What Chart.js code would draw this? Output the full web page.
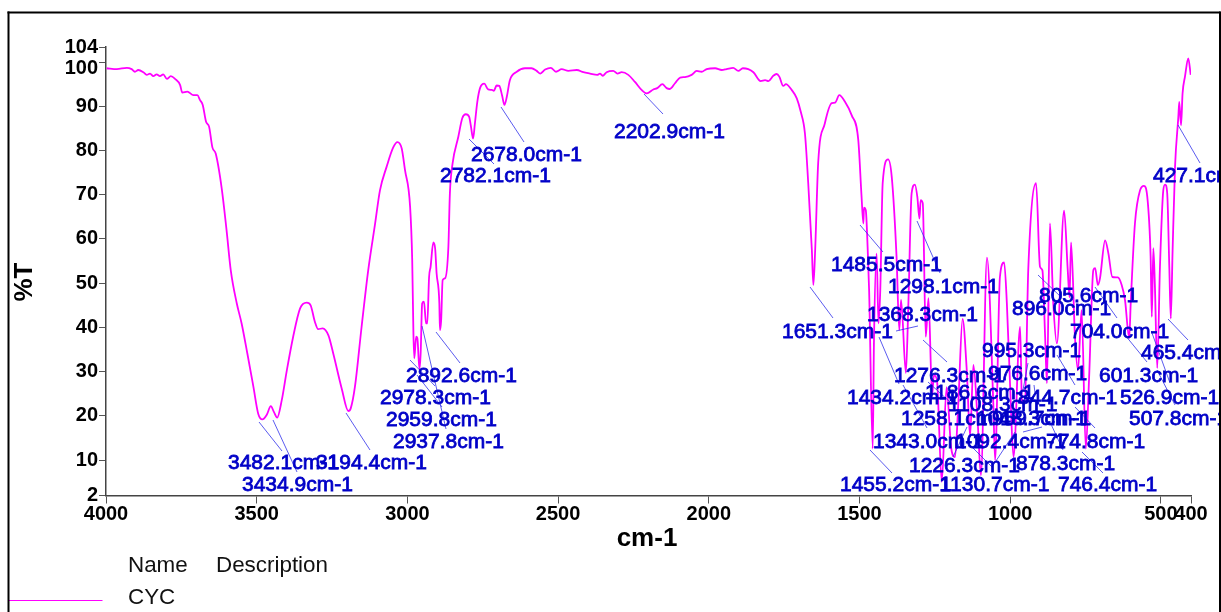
<!DOCTYPE html>
<html>
<head>
<meta charset="utf-8">
<style>html,body{margin:0;padding:0;background:#fff;overflow:hidden}canvas{display:block}</style>
<script src="https://cdn.jsdelivr.net/npm/chart.js@4"></script>
</head>
<body>
<div style="width:1221px;height:612px;position:relative"><canvas id="c" width="1221" height="612"></canvas></div>
<script>
const wavenumber = [
3998,3964,3931,3915,3904,3893,3876,3865,3854,3843,3832,3821,3810,3798,3785,3771,3754,3747,3730,3710,
3697,3688,3679,3668,3658,3647,3636,3616,3600,3586,3566,3550,3531,3511,3495,3481,3467,3453,3443,3432,
3417,3400,3379,3356,3334,3321,3307,3296,3281,3262,3246,3218,3196,3188,3174,3152,3130,3107,3091,3069,
3047,3033,3019,3008,2991,2984,2980,2977,2971,2967,2960,2956,2951,2945,2938,2934,2928,2923,2914,2908,
2903,2894,2892,2888,2883,2875,2864,2859,2850,2831,2818,2806,2795,2789,2782,2776,2768,2759,2745,2732,
2720,2713,2704,2695,2686,2678,2670,2660,2637,2610,2588,2571,2559,2543,2524,2507,2488,2466,2438,2416,
2394,2370,2361,2352,2339,2317,2303,2289,2267,2245,2223,2206,2184,2171,2154,2140,2129,2112,2095,2079,
2057,2040,2024,2007,1979,1957,1941,1919,1902,1887,1869,1852,1828,1813,1802,1786,1775,1766,1753,1744,
1725,1708,1695,1681,1670,1658,1653,1647,1637,1615,1592,1581,1567,1548,1526,1504,1493,1487,1485,1479,
1473,1468,1456,1452,1443,1437,1431,1423,1405,1393,1377,1368,1362,1346,1338,1327,1316,1308,1301,1297,
1290,1280,1271,1259,1253,1243,1227,1211,1196,1183,1172,1158,1144,1133,1122,1108,1097,1077,1056,1050,
1034,1020,1011,1000,989,967,961,951,940,914,901,893,884,878,868,857,845,821,809,803,
798,785,775,763,749,738,724,718,709,702,685,674,661,643,630,619,605,600,586,569,
556,545,534,530,525,520,512,503,492,486,479,472,467,461,453,442,439,433,428,420,
409,401];
const transmittance = [
98.6,98.4,98.7,98.4,97.8,98.2,97.7,97.1,97.4,96.8,97.2,96.8,97.2,96.2,96.8,96.2,94.8,93.1,93.3,92.5,
92.5,91.4,90.3,86.5,85.4,80.7,79.3,71.4,62,52.9,45.4,40.9,34.1,26.6,20.5,19.2,20.2,22.2,20.9,19.6,
23.5,30.3,37.9,44.3,45.6,45,41.3,39.6,39.8,38.2,34.1,26.2,21.1,21.7,26.6,40.1,52.9,63.5,71,76.3,
80.7,81.9,80.5,75.6,67.3,55.2,38.7,33,37.9,37.6,30.6,34.1,45.4,45.8,40.9,40.9,51.4,53.7,59.2,57.9,
52.2,45.5,39.4,41.6,50.7,51.1,58.2,70.3,77.1,83.1,87.3,88.2,87.6,85.4,82.7,86.1,91,94.1,95.1,93.8,
93.7,93.5,94.7,94.6,92.5,90.3,92.2,95.9,97.8,98.6,98.6,98,97.4,98.3,98.7,97.8,98.4,98,98.2,97.7,
97.4,97.1,97.4,96.9,97.7,98,97.4,97.7,97.1,95.5,93.7,92.9,93.8,94.1,95,94.1,93.9,95.2,96.5,96.6,
97.1,98,97.8,98.4,98.6,98.2,98.4,98.7,98,98.6,98.4,97.7,95.7,95.9,95.7,96.9,97.3,96.7,94.6,95,
93.7,91.8,88.8,83.9,72.6,57.5,49.6,57.5,77.2,86.1,90.7,90.8,92.5,91,88,82.4,69.5,63.5,67.1,66.5,
58.2,48.4,12.6,36.4,56.7,40.9,48.4,72.6,78,74.1,56,39.4,46.2,29.7,44.7,70.3,72.3,69.5,64.6,68.8,
68.1,37.9,46.6,24.7,29.2,28.1,5.1,26.5,12.9,10.7,22.9,41.9,30.3,15.4,31.5,19,6.6,55.8,22.9,10,
51.4,54.7,45.5,26.5,10.7,40.1,23.5,22.9,53,72.6,53.7,52.9,37.9,27.4,63.5,45.5,36.4,66.4,53,46.8,
59.2,37.9,30.3,43.9,12.6,28.8,53,53.4,49.6,51.1,59.7,56.7,51.4,51.3,49.6,46.2,37.6,45.5,63.5,71,
72,69.5,56,42.4,57.9,49.9,30.8,53.7,71,72.3,70.4,53.7,42,57.5,76.3,87.6,91,85.7,92.9,96.7,
100.8,97.1];
const xTicks = [4000,3500,3000,2500,2000,1500,1000,500,400];
const yTicks = [2,10,20,30,40,50,60,70,80,90,100,103.4];
const yTickLabels = ['2','10','20','30','40','50','60','70','80','90','','104'];
const seriesName = 'CYC';
const peakNames = [
'3482.1cm-1','3434.9cm-1','3194.4cm-1','2978.3cm-1','2959.8cm-1','2937.8cm-1','2892.6cm-1','2782.1cm-1','2678.0cm-1','2202.9cm-1',
'1651.3cm-1','1485.5cm-1','1455.2cm-1','1434.2cm-1','1368.3cm-1','1343.0cm-1','1298.1cm-1','1276.3cm-1','1258.1cm-1','1226.3cm-1',
'1186.6cm-1','1130.7cm-1','1108.3cm-1','1092.4cm-1','1048.3cm-1','995.3cm-1','976.6cm-1','959.7cm-1','896.0cm-1','878.3cm-1',
'844.7cm-1','805.6cm-1','774.8cm-1','746.4cm-1','704.0cm-1','601.3cm-1','526.9cm-1','507.8cm-1','465.4cm-1','427.1cm-1'];

// annotation layout: label left edge and centre line, then leader ends, in canvas pixels
const labelAt = [
[228,463],[242,485],[316,463],[380,398],[386,420],[393,442],[406,376],[440,176],[471,155],[614,132],
[782,332],[831,265],[840,485],[847,398],[867,315],[873,442],[888,287],[894,376],[901,419],[909,466],
[925,393],[940,485],[948,405],[955,442],[976,419],[982,351],[988,374],[992,419],[1012,309],[1016,464],
[1018,398],[1039,296],[1046,442],[1058,485],[1070,332],[1099,376],[1120,398],[1129,419],[1141,353],[1153,176]];
const leaders = [
[259,422,282,451],[273,420,297,472],[346,413,370,450],[410,360,435,386],[417,375,442,407],[422,326,446,429],[436,332,460,363],[469,139,494,164],[501,107,524,142],[644,94,663,114],
[810,287,833,318],[860,225,883,252],[870,450,892,473],[879,337,899,384],[896,331,918,326],[903,385,927,428],[917,221,940,273],[923,340,947,362],[928,382,950,402],[967,427,953,457],
[970,445,992,467],[992,467,1015,432],[1023,432,1042,427],[1050,422,1063,450],[1028,363,1023,390],[1034,385,1035,393],[1038,275,1061,297],[1057,355,1075,385],[1075,407,1095,428],[1082,452,1103,473],
[1095,287,1117,318],[1125,335,1147,362],[1152,333,1170,383],[1157,370,1175,405],[1168,319,1188,340],[1178,125,1200,163]];

const annotations = {
  id: 'annotations',
  afterDatasetsDraw(chart) {
    const ctx = chart.ctx;
    const y = chart.scales.y;
    ctx.save();
    ctx.beginPath(); ctx.rect(0, 0, 1219, 612); ctx.clip();
    ctx.strokeStyle = 'rgba(50,50,235,0.8)'; ctx.lineWidth = 1;
    leaders.forEach(l => { ctx.beginPath(); ctx.moveTo(l[0], l[1]); ctx.lineTo(l[2], l[3]); ctx.stroke(); });
    ctx.font = '21px "Liberation Sans"'; ctx.textBaseline = 'middle'; ctx.textAlign = 'left';
    ctx.fillStyle = '#0000c8'; ctx.strokeStyle = '#0000c8'; ctx.lineWidth = 0.8;
    peakNames.forEach((n, i) => {
      ctx.fillText(n, labelAt[i][0], labelAt[i][1]);
      ctx.strokeText(n, labelAt[i][0], labelAt[i][1]);
    });
    ctx.restore();

    ctx.save();
    // shifted y label for 100 so that it clears 104
    ctx.font = 'bold 20px "Liberation Sans"'; ctx.fillStyle = '#000';
    ctx.textAlign = 'right'; ctx.textBaseline = 'middle';
    ctx.fillText('100', 98, y.getPixelForValue(100) + 6);
    // axis titles
    ctx.font = 'bold 26px "Liberation Sans"'; ctx.textAlign = 'center';
    ctx.fillText('cm-1', 647, 539);
    ctx.save(); ctx.translate(25, 282); ctx.rotate(-Math.PI / 2); ctx.fillText('%T', 0, 0); ctx.restore();
    // legend table
    ctx.font = '22.4px "Liberation Sans"'; ctx.fillStyle = '#111'; ctx.textAlign = 'left';
    ctx.fillText('Name', 128, 566); ctx.fillText('Description', 216, 566); ctx.fillText(seriesName, 128, 598);
    ctx.strokeStyle = '#ff00ff'; ctx.lineWidth = 1;
    ctx.beginPath(); ctx.moveTo(8, 600.5); ctx.lineTo(102.5, 600.5); ctx.stroke();
    // page frame
    ctx.fillStyle = '#000';
    ctx.fillRect(7.5, 11.5, 1213, 2); ctx.fillRect(7.5, 11.5, 2, 601); ctx.fillRect(1219, 11.5, 2, 601);
    ctx.restore();
  }
};

new Chart(document.getElementById('c'), {
  type: 'line',
  data: { datasets: [{
    label: seriesName,
    data: wavenumber.map((w, i) => ({ x: w, y: transmittance[i] })),
    borderColor: '#ff00ff', borderWidth: 1.8, pointRadius: 0, cubicInterpolationMode: 'monotone', fill: false, borderJoinStyle: 'round'
  }] },
  plugins: [annotations],
  options: {
    responsive: false, animation: false, parsing: false,
    layout: { padding: { top: 47, right: 30, left: 0, bottom: 0 } },
    plugins: { legend: { display: false }, title: { display: false }, tooltip: { enabled: false } },
    scales: {
      x: {
        type: 'linear', reverse: true, min: 400, max: 4000,
        afterBuildTicks: s => { s.ticks = xTicks.map(v => ({ value: v })); },
        afterFit: s => { s.height = 116.5; },
        grid: { display: true, drawOnChartArea: false, drawTicks: true, tickLength: 8, color: '#555', lineWidth: 1 },
        border: { display: true, color: '#444', width: 1.5 },
        ticks: { autoSkip: false, maxRotation: 0, minRotation: 0, padding: -1, color: '#000',
          font: { family: '"Liberation Sans"', size: 20, weight: 'bold' },
          callback: v => String(v) }
      },
      y: {
        type: 'linear', min: 2, max: 103.4,
        afterBuildTicks: s => { s.ticks = yTicks.map(v => ({ value: v })); },
        afterFit: s => { s.width = 106; },
        grid: { display: true, drawOnChartArea: false, drawTicks: true, tickLength: 7, color: '#555', lineWidth: 1 },
        border: { display: true, color: '#444', width: 1.5 },
        ticks: { autoSkip: false, padding: 1, color: '#000',
          font: { family: '"Liberation Sans"', size: 20, weight: 'bold' },
          callback: v => yTickLabels[yTicks.indexOf(v)] }
      }
    }
  }
});
</script>
</body>
</html>
